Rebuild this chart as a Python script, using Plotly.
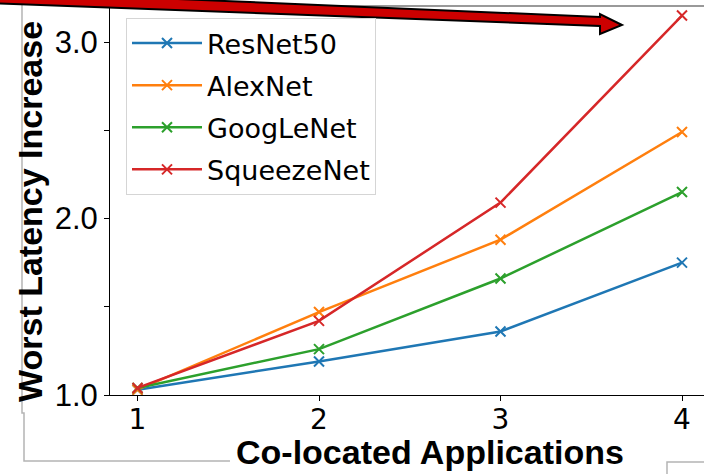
import plotly.graph_objects as go

# ---- data ----
x_apps = [1, 2, 3, 4]
series_names = ["ResNet50", "AlexNet", "GoogLeNet", "SqueezeNet"]
resnet50 = [1.03, 1.19, 1.36, 1.75]
alexnet = [1.03, 1.47, 1.88, 2.49]
googlenet = [1.04, 1.26, 1.66, 2.15]
squeezenet = [1.04, 1.42, 2.09, 3.15]
colors = ["#1f77b4", "#ff7f0e", "#2ca02c", "#d62728"]
y_tickvals = [1.0, 1.5, 2.0, 2.5, 3.0]
y_ticktext = ["1.0", "", "2.0", "", "3.0"]
x_tickvals = [1, 2, 3, 4]

W, H = 704, 474
ML, MR, MT, MB = 110, 0, 5, 79
PW, PH = W - ML - MR, H - MT - MB


def px(xp):
    return (xp - ML) / PW


def py(yp):
    return (H - MB - yp) / PH


fig = go.Figure()
for i, (name, vals) in enumerate(zip(series_names, [resnet50, alexnet, googlenet, squeezenet])):
    fig.add_trace(go.Scatter(
        x=x_apps, y=vals, name=name, mode="lines+markers",
        legendgroup=name,
        line=dict(color=colors[i], width=2.5),
        marker=dict(symbol="x-thin", size=10, color=colors[i],
                    line=dict(color=colors[i], width=2)),
    ))


def path(points):
    return "M " + " L ".join(f"{px(a):.5f},{py(b):.5f}" for a, b in points)


shapes = []
gray = "#b4b4b4"
# screenshot frame lines
shapes.append(dict(type="path", xref="paper", yref="paper",
                   path=path([(22, 3), (22, 413), (24, 413), (24, 461), (230, 461)]),
                   line=dict(color=gray, width=1.5)))
shapes.append(dict(type="path", xref="paper", yref="paper",
                   path=path([(300, 6), (704, 6)]),
                   line=dict(color="#999999", width=2)))
shapes.append(dict(type="path", xref="paper", yref="paper",
                   path=path([(667, 474), (667, 462), (704, 462)]),
                   line=dict(color=gray, width=1.5)))
# red arrow
arrow = [(-10, -9), (600, 17), (600, 14), (622, 25), (600, 34), (600, 26), (-10, 3)]
shapes.append(dict(type="path", xref="paper", yref="paper",
                   path=path(arrow) + " Z",
                   fillcolor="#cc0000", line=dict(color="black", width=2)))

annotations = [
    dict(text="<b>Co-located Applications</b>", xref="paper", yref="paper",
         x=px(430), y=py(452), xanchor="center", yanchor="middle", showarrow=False,
         font=dict(family="Liberation Sans", size=34, color="black")),
    dict(text="<b>Worst Latency Increase</b>", xref="paper", yref="paper",
         x=px(30), y=py(212), xanchor="center", yanchor="middle", showarrow=False,
         textangle=-90,
         font=dict(family="Liberation Sans", size=34, color="black")),
]

fig.update_layout(
    width=W, height=H,
    margin=dict(l=ML, r=MR, t=MT, b=MB, pad=0),
    paper_bgcolor="white", plot_bgcolor="white",
    showlegend=True,
    legend=dict(x=px(126), y=py(18), xanchor="left", yanchor="top",
                font=dict(family="DejaVu Sans", size=27, color="black"),
                bgcolor="white", bordercolor="#d5d5d5", borderwidth=1,
                tracegroupgap=4, itemwidth=70),
    shapes=shapes,
    annotations=annotations,
    xaxis=dict(range=[0.8485, 4.1212], tickvals=x_tickvals, showgrid=False,
               zeroline=False, showline=True, linecolor="black", linewidth=1,
               ticks="outside", ticklen=5, tickcolor="black", ticklabelstandoff=-6,
               tickfont=dict(family="DejaVu Sans", size=28, color="black")),
    yaxis=dict(range=[1.0, 1.0 + PH / 176.5], tickvals=y_tickvals, ticktext=y_ticktext,
               showgrid=False, zeroline=False, showline=True, linecolor="black",
               linewidth=1, ticks="outside", ticklen=5, tickcolor="black",
               tickfont=dict(family="Liberation Sans", size=31, color="black")),
)

fig.write_html("out.html")
